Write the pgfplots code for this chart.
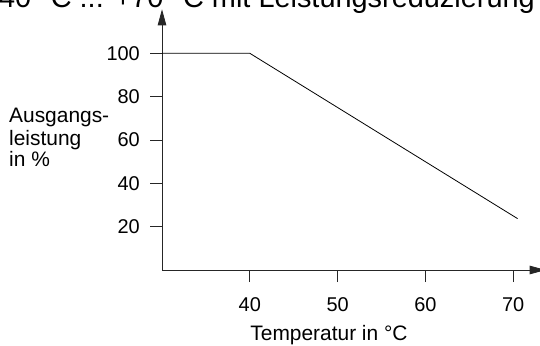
\documentclass[border=0pt]{standalone}
\usepackage{pgfplots}
\pgfplotsset{compat=1.18}
\usetikzlibrary{arrows.meta}
\usepackage{fontspec}
\setmainfont{Liberation Sans}
\begin{document}
\begin{tikzpicture}[x=1bp,y=1bp]
\useasboundingbox (-162,-75) rectangle (378,270);
\clip (-162,-75) rectangle (378,270);
\begin{axis}[
  at={(0,0)}, anchor=south west,
  scale only axis, width=383.7bp, height=260.7bp,
  xmin=30, xmax=73.7, ymin=0, ymax=120.3,
  axis lines=left,
  axis line style={line width=0.8bp, black!85, -{Triangle[length=16bp,width=8.5bp]}},
  xtick={40,50,60,70}, ytick={20,40,60,80,100},
  tick align=outside, major tick length=12bp,
  tick style={line width=0.8bp, black!85},
  tick label style={font=\fontsize{20}{22}\selectfont, inner sep=0pt},
  /pgf/number format/assume math mode=true,
  xticklabel style={anchor=base, yshift=-29bp},
  yticklabel style={anchor=east, xshift=-10bp},
  clip=false,
]
\addplot[black, line width=0.8bp] coordinates {(30,100) (40,100) (70.5,23.7)};
\end{axis}
\node[anchor=base east, font=\fontsize{29}{32}\selectfont, inner sep=0pt] at (373,263) {-40 °C ... +70 °C mit Leistungsreduzierung};
\node[anchor=base west, font=\fontsize{21}{23}\selectfont, inner sep=0pt] at (-153,148) {Ausgangs-};
\node[anchor=base west, font=\fontsize{21}{23}\selectfont, inner sep=0pt] at (-153,125) {leistung};
\node[anchor=base west, font=\fontsize{21}{23}\selectfont, inner sep=0pt] at (-153,104) {in \%};
\node[anchor=base, font=\fontsize{21}{23}\selectfont, inner sep=0pt] at (167,-70) {Temperatur in °C};
\end{tikzpicture}
\end{document}
